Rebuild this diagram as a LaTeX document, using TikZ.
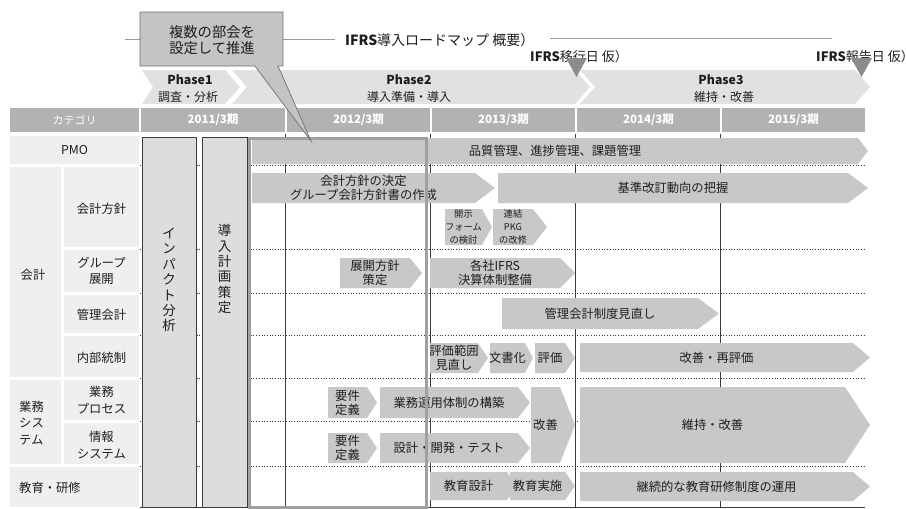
\documentclass[tikz,border=0pt]{standalone}
\usepackage{fontspec}
\setmainfont{Noto Sans CJK JP}
\definecolor{barg}{HTML}{C8C8C8}
\definecolor{phaseg}{HTML}{E1E1E1}
\definecolor{headg}{HTML}{B2B2B2}
\definecolor{leftg}{HTML}{EFEFEF}
\definecolor{boxg}{HTML}{DCDDDF}
\definecolor{callg}{HTML}{C4C4C4}
\definecolor{callb}{HTML}{707070}
\definecolor{hlg}{HTML}{A0A0A0}
\definecolor{lineg}{HTML}{9A9A9A}
\definecolor{darkl}{HTML}{3A3A3A}
\definecolor{triag}{HTML}{8C8C8C}
\definecolor{txt}{HTML}{1E1E1E}
\tikzset{
  bartext/.style={text=txt, align=center, inner sep=0pt, font=\fontsize{12.3}{14}\selectfont},
  smalltext/.style={text=txt, align=center, inner sep=0pt, font=\fontsize{9.3}{13}\selectfont},
  celltext/.style={text=txt, align=center, inner sep=0pt, font=\fontsize{12.3}{16.5}\selectfont},
  headtext/.style={text=white, inner sep=0pt, font=\fontsize{11.5}{12}\selectfont\bfseries},
  phtitle/.style={text=txt, inner sep=0pt, font=\fontsize{12.3}{13}\selectfont\bfseries},
  phsub/.style={text=txt, inner sep=0pt, font=\fontsize{12}{13}\selectfont},
  vtext/.style={text=txt, align=center, inner sep=0pt, font=\fontsize{13.5}{15.4}\selectfont},
  labeltext/.style={text=txt, inner sep=0pt, font=\fontsize{13}{14}\selectfont},
  dotl/.style={dotted, darkl, line width=0.7},
  vline/.style={darkl, line width=1},
  titleline/.style={lineg, line width=1},
  cellfill/.style={fill=leftg},
  headfill/.style={fill=headg},
  sidebox/.style={fill=boxg, draw=darkl, line width=0.8},
}
\newcommand\chevbar[7]{%
  \fill[barg] (#2,#5) -- (#3,#5) -- (#4,{(#5+#6)/2}) -- (#3,#6) -- (#2,#6) -- cycle;
  \node[bartext] (#1) at ({(#2+#3)/2},{(#5+#6)/2}) {#7};
}
\newcommand\chevsmall[7]{%
  \fill[barg] (#2,#5) -- (#3,#5) -- (#4,{(#5+#6)/2}) -- (#3,#6) -- (#2,#6) -- cycle;
  \node[smalltext] (#1) at ({(#2+#3)/2},{(#5+#6)/2}) {#7};
}
\begin{document}
\begin{tikzpicture}[x=1pt,y=-1pt]
\useasboundingbox (0,0) rectangle (906,509);

% ---------- left category panel ----------
\fill[cellfill] (10,136) rectangle (139,164);
\fill[cellfill] (10,167) rectangle (61,377);
\fill[cellfill] (64,167) rectangle (139,247);
\fill[cellfill] (64,250) rectangle (139,292);
\fill[cellfill] (64,295) rectangle (139,333);
\fill[cellfill] (64,336) rectangle (139,377);
\fill[cellfill] (10,380) rectangle (61,464);
\fill[cellfill] (64,380) rectangle (139,420);
\fill[cellfill] (64,423) rectangle (139,464);
\fill[cellfill] (10,467) rectangle (139,507);
\node[celltext] (cpmo) at (74.5,150) {PMO};
\node[celltext] (ckaikei) at (33,275) {会計};
\node[celltext] (ckh) at (101.5,209) {会計方針};
\node[celltext] (cgr) at (101.5,271) {グループ\\展開};
\node[celltext] (ckr) at (101.5,315) {管理会計};
\node[celltext] (cnb) at (101.5,358) {内部統制};
\node[celltext, align=left, anchor=west] (cgs) at (19,423) {業務\\シス\\テム};
\node[celltext] (cbp) at (101.5,400) {業務\\プロセス};
\node[celltext] (cis) at (101.5,445) {情報\\システム};
\node[celltext, anchor=west] (ced) at (19,488) {教育・研修};

% ---------- header row ----------
\fill[headfill] (10,108) rectangle (139,132);
\fill[headfill] (141,108) rectangle (285,132);
\fill[headfill] (287,108) rectangle (430,132);
\fill[headfill] (432,108) rectangle (575,132);
\fill[headfill] (577,108) rectangle (720,132);
\fill[headfill] (722,108) rectangle (865,132);
\node[headtext, font=\fontsize{11}{12}\selectfont] (hcat) at (74.5,120) {カテゴリ};
\node[headtext] (h11) at (213,120) {2011/3期};
\node[headtext] (h12) at (358.5,120) {2012/3期};
\node[headtext] (h13) at (503.5,120) {2013/3期};
\node[headtext] (h14) at (648.5,120) {2014/3期};
\node[headtext] (h15) at (793.5,120) {2015/3期};

% ---------- phases ----------
\fill[phaseg] (142,70) -- (225,70) -- (240,87) -- (225,104) -- (142,104) -- (153,87) -- cycle;
\fill[phaseg] (232,70) -- (575,70) -- (590,87) -- (575,104) -- (232,104) -- (247,87) -- cycle;
\fill[phaseg] (580,70) -- (855,70) -- (870,87) -- (855,104) -- (580,104) -- (595,87) -- cycle;
\node[phtitle] (p1a) at (190,80) {Phase1};
\node[phsub] (p1b) at (188,96.5) {調査・分析};
\node[phtitle] (p2a) at (409,80) {Phase2};
\node[phsub] (p2b) at (409,96.5) {導入準備・導入};
\node[phtitle] (p3a) at (721,80) {Phase3};
\node[phsub] (p3b) at (724,96.5) {維持・改善};

% ---------- grid ----------
\foreach \yy in {165,249,293,335,378,421,466}
  \draw[dotl] (140,\yy) -- (865,\yy);
\foreach \xx in {285,430,575,720}
  \draw[vline] (\xx,134) -- (\xx,507);
\draw[darkl, line width=1.2] (140,507.5) -- (865,507.5);

% ---------- side boxes ----------
\draw[sidebox] (142.5,137) rectangle (196,507);
\draw[sidebox] (202,137) rectangle (247,507);
\node[vtext] (imp) at (169,280) {イ\\ン\\パ\\ク\\ト\\分\\析};
\node[vtext] (plan) at (224.5,269) {導\\入\\計\\画\\策\\定};

% ---------- bars ----------
\chevbar{pmo}{252}{858}{868}{138}{164}{品質管理、進捗管理、課題管理}
\chevbar{kk1}{252}{475}{495}{173}{203}{会計方針の決定\\グループ会計方針書の作成}
\chevbar{kk2}{498}{848}{868}{173}{203}{基準改訂動向の把握}
\chevsmall{kk3}{445}{482}{492}{209}{245}{開示\\フォーム\\の検討}
\chevsmall{kk4}{493}{533}{547}{209}{245}{連結\\PKG\\の改修}
\chevbar{gr1}{340}{410}{422}{258}{288}{展開方針\\策定}
\chevbar{gr2}{430}{560}{575}{258}{288}{各社IFRS\\決算体制整備}
\chevbar{kr1}{502}{698}{719}{298}{329}{管理会計制度見直し}
\chevbar{nb1}{430}{478}{488}{343}{373}{評価範囲\\見直し}
\chevbar{nb2}{490}{525}{533}{343}{373}{文書化}
\chevbar{nb3}{535}{565}{575}{343}{373}{評価}
\chevbar{nb4}{580}{853}{870}{343}{372}{改善・再評価}
\chevbar{bp1}{328}{367}{377}{387}{418}{要件\\定義}
\chevbar{bp2}{380}{518}{530}{387}{418}{業務運用体制の構築}
\chevbar{is1}{328}{367}{377}{433}{463}{要件\\定義}
\chevbar{is2}{380}{518}{530}{433}{463}{設計・開発・テスト}
\chevbar{kz1}{531}{560}{575}{387}{463}{改善}
\chevbar{ij1}{580}{845}{870}{387}{463}{維持・改善}
\chevbar{ed1}{430}{507}{517}{472}{500}{教育設計}
\chevbar{ed2}{510}{565}{575}{472}{500}{教育実施}
\chevbar{ed3}{580}{853}{870}{472}{501}{継続的な教育研修制度の運用}

% ---------- highlight frame ----------
\draw[hlg, line width=3] (249.5,138) rectangle (426.5,507);

% ---------- title and milestones ----------
\node[labeltext, font=\fontsize{14}{15}\selectfont, anchor=west] (title) at (345,40) {\textbf{IFRS}導入ロードマップ 概要）};
\coordinate (tl1) at (125,39);
\coordinate (tl2) at (140,39);
\coordinate (tl3) at (283,39);
\coordinate (tl4) at (335,39);
\coordinate (tl5) at (550,38);
\coordinate (tl6) at (832,38);
\draw[titleline] (tl1) -- (tl2);
\draw[titleline] (tl3) -- (tl4);
\draw[titleline] (tl5) -- (tl6);
\node[labeltext, anchor=west] (ms1) at (530,57) {\textbf{IFRS}移行日 仮）};
\node[labeltext, anchor=west] (ms2) at (816,57) {\textbf{IFRS}報告日 仮）};
\fill[triag] (566,58) -- (587,58) -- (576.5,77) -- cycle;
\fill[triag] (851,58) -- (872,58) -- (861.5,77) -- cycle;

% ---------- callout ----------
\filldraw[fill=callg, draw=callb, line width=0.7] (140,12) -- (283,12) -- (283,66) -- (278,66) -- (311,141) -- (255,66) -- (140,66) -- cycle;
\node[text=txt, align=center, inner sep=0pt, font=\fontsize{14.3}{16}\selectfont] (call) at (212,40) {複数の部会を\\設定して推進};
\end{tikzpicture}
\end{document}
